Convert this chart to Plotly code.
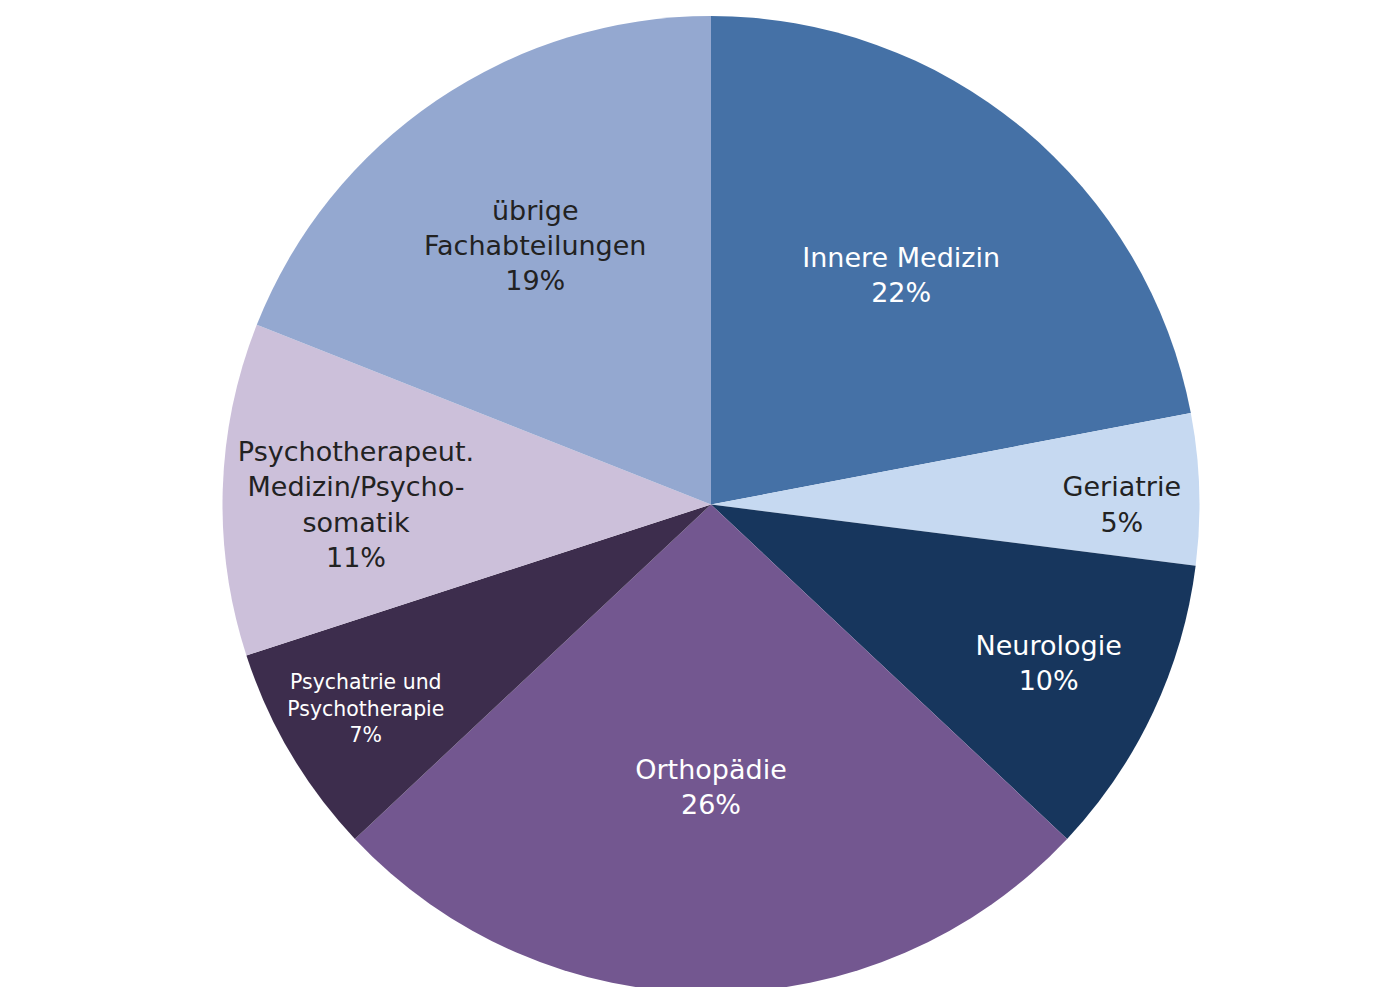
import plotly.graph_objects as go

labels = [
    "Innere Medizin",
    "Geriatrie",
    "Neurologie",
    "Orthopädie",
    "Psychatrie und Psychotherapie",
    "Psychotherapeut. Medizin/Psychosomatik",
    "übrige Fachabteilungen",
]
label_text = [
    "Innere Medizin",
    "Geriatrie",
    "Neurologie",
    "Orthopädie",
    "Psychatrie und<br>Psychotherapie",
    "Psychotherapeut.<br>Medizin/Psycho-<br>somatik",
    "übrige<br>Fachabteilungen",
]
values = [22, 5, 10, 26, 7, 11, 19]
colors = ["#4571A6", "#C6D9F1", "#17365D", "#735790", "#3D2D4D", "#CCC0DA", "#94A8D0"]
text_colors = ["white", "#222222", "white", "white", "white", "#222222", "#222222"]

fig = go.Figure(
    go.Pie(
        labels=labels,
        values=values,
        text=label_text,
        texttemplate="%{text}<br>%{value}%",
        textposition="inside",
        insidetextorientation="horizontal",
        sort=False,
        direction="clockwise",
        rotation=0,
        marker=dict(colors=colors, line=dict(width=0)),
        textfont=dict(family="Verdana, DejaVu Sans", size=27, color=text_colors),
        showlegend=False,
        hoverinfo="label+percent",
    )
)
fig.update_layout(
    width=1386,
    height=987,
    paper_bgcolor="white",
    margin=dict(t=8, l=30, r=10, b=2),
)

fig.write_html("out.html")
